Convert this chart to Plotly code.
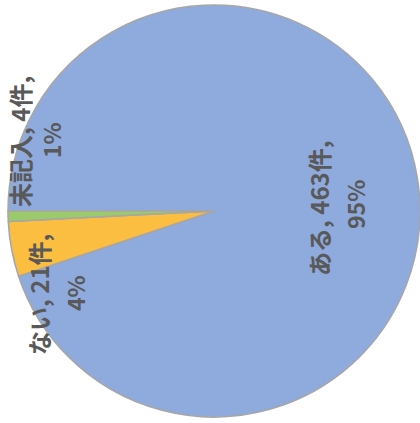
import plotly.graph_objects as go

categories = ["ある", "ない", "未記入"]
counts = [463, 21, 4]
colors = ["#8FAADC", "#FBBE40", "#9ACA6C"]

total = sum(counts)
pcts = [round(c / total * 100) for c in counts]

# label anchor positions in pixels (x, y from top) for [name line, percent line]
W, H = 420, 423
label_pos = [
    ((318, 208), (355, 205)),
    ((38, 295), (75, 293)),
    ((19, 142), (51, 140)),
]

fig = go.Figure(go.Pie(
    labels=categories,
    values=counts,
    sort=False,
    direction="clockwise",
    rotation=-90,
    marker=dict(colors=colors, line=dict(color="#A6A6A6", width=1.5)),
    textinfo="none",
    hoverinfo="label+value+percent",
    domain=dict(x=[8 / W, 1], y=[6 / H, 418 / H]),
    showlegend=False,
))

font = dict(family="Liberation Sans Narrow, Noto Sans CJK JP", size=24, color="#595959")
ann = []
for cat, cnt, p, (l1, l2) in zip(categories, counts, pcts, label_pos):
    ann.append(dict(x=l1[0] / W, y=1 - l1[1] / H, xref="paper", yref="paper",
                    text=f"<b>{cat}, {cnt}件,</b>", showarrow=False, textangle=-90,
                    xanchor="center", yanchor="middle", font=font))
    ann.append(dict(x=l2[0] / W, y=1 - l2[1] / H, xref="paper", yref="paper",
                    text=f"<b>{p}%</b>", showarrow=False, textangle=-90,
                    xanchor="center", yanchor="middle", font=dict(font, size=23)))

fig.update_layout(
    width=W, height=H,
    margin=dict(l=0, r=0, t=0, b=0),
    paper_bgcolor="white",
    annotations=ann,
)
fig.write_html("out.html")
